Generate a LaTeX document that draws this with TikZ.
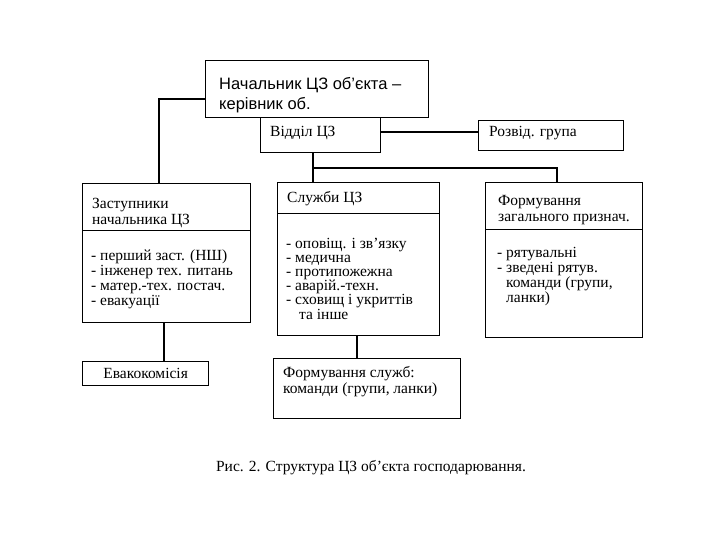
\documentclass[tikz,border=0pt]{standalone}
\usepackage{fontspec}
\setmainfont{Liberation Serif}
\newfontfamily\arialf{Liberation Sans}
\begin{document}
\begin{tikzpicture}[x=1pt,y=-1pt,
  box/.style={draw,line width=1.2pt,inner sep=0pt,anchor=north west},
  conn/.style={line width=1.1pt},
  txt/.style={anchor=base west,inner sep=0pt,align=left,font=\fontsize{15.5}{15}\selectfont},
  divl/.style={line width=1pt}]
\useasboundingbox (0,0) rectangle (720,540);
% boxes
\node[box,minimum width=223pt,minimum height=57pt] (head) at (205,60) {};
\node[box,minimum width=120pt,minimum height=35pt,fill=white] (dept) at (260,117) {};
\node[box,minimum width=145pt,minimum height=30pt] (razv) at (478,120) {};
\node[box,minimum width=168pt,minimum height=139pt] (zast) at (82,183) {};
\node[box,minimum width=162pt,minimum height=153pt] (sluz) at (277,182) {};
\node[box,minimum width=157pt,minimum height=155pt] (form) at (485,182) {};
\node[box,minimum width=126pt,minimum height=24pt] (evak) at (82,361) {};
\node[box,minimum width=187pt,minimum height=60pt] (fsl) at (273,358) {};
% dividers
\coordinate (zd) at (82,231);
\draw[divl] (zd) -- (zd -| zast.east);
\coordinate (sd) at (277,214);
\draw[divl] (sd) -- (sd -| sluz.east);
\coordinate (fd) at (485,230);
\draw[divl] (fd) -- (fd -| form.east);
% texts (anchor = baseline of last line)
\node[anchor=base west,inner sep=0pt,align=left,font=\arialf\fontsize{16.5}{20}\selectfont] (t1) at (219,110) {Начальник ЦЗ об’єкта –\\керівник об.};
\node[txt] (t2) at (270,137) {Відділ ЦЗ};
\node[txt] (t3) at (489,137) {Розвід. група};
\node[txt,font=\fontsize{15.5}{17}\selectfont] (t4) at (92,225) {Заступники\\начальника ЦЗ};
\node[txt,font=\fontsize{15.5}{15}\selectfont] (t5) at (91,305) {- перший заст. (НШ)\\- інженер тех. питань\\- матер.-тех. постач.\\- евакуації};
\node[txt] (t6) at (287,203) {Служби ЦЗ};
\node[txt,font=\fontsize{15.5}{14.2}\selectfont] (t7) at (286,319) {- оповіщ. і зв’язку\\- медична\\- протипожежна\\- аварій.-техн.\\- сховищ і укриттів\\\hspace*{13pt}та інше};
\node[txt,font=\fontsize{15.5}{16}\selectfont] (t8) at (498,222) {Формування\\загального признач.};
\node[txt,font=\fontsize{15.5}{15}\selectfont] (t9) at (497,302) {- рятувальні\\- зведені рятув.\\\hspace*{9pt}команди (групи,\\\hspace*{9pt}ланки)};
\node[font=\fontsize{15.5}{15}\selectfont,inner sep=0pt] (t10) at (evak.center) {Евакокомісія};
\node[txt,font=\fontsize{15.5}{16}\selectfont] (t11) at (283,393) {Формування служб:\\команди (групи, ланки)};
\node[font=\fontsize{15.5}{16}\selectfont,inner sep=0pt] (cap) at (371,468) {Рис. 2. Структура ЦЗ об’єкта господарювання.};
% connectors
\coordinate (c1) at (159,99);
\draw[conn] (c1 -| head.west) -- (c1) -- (c1 |- zast.north);
\coordinate (c2) at (380,132);
\draw[conn] (c2) -- (c2 -| razv.west);
\coordinate (c3) at (313,168);
\coordinate (c4) at (557,168);
\draw[conn] (c3 |- dept.south) -- (c3 |- sluz.north);
\draw[conn] (c3) -- (c4) -- (c4 |- form.north);
\coordinate (c5) at (164,340);
\draw[conn] (c5 |- zast.south) -- (c5 |- evak.north);
\coordinate (c6) at (357,340);
\draw[conn] (c6 |- sluz.south) -- (c6 |- fsl.north);
\end{tikzpicture}
\end{document}
